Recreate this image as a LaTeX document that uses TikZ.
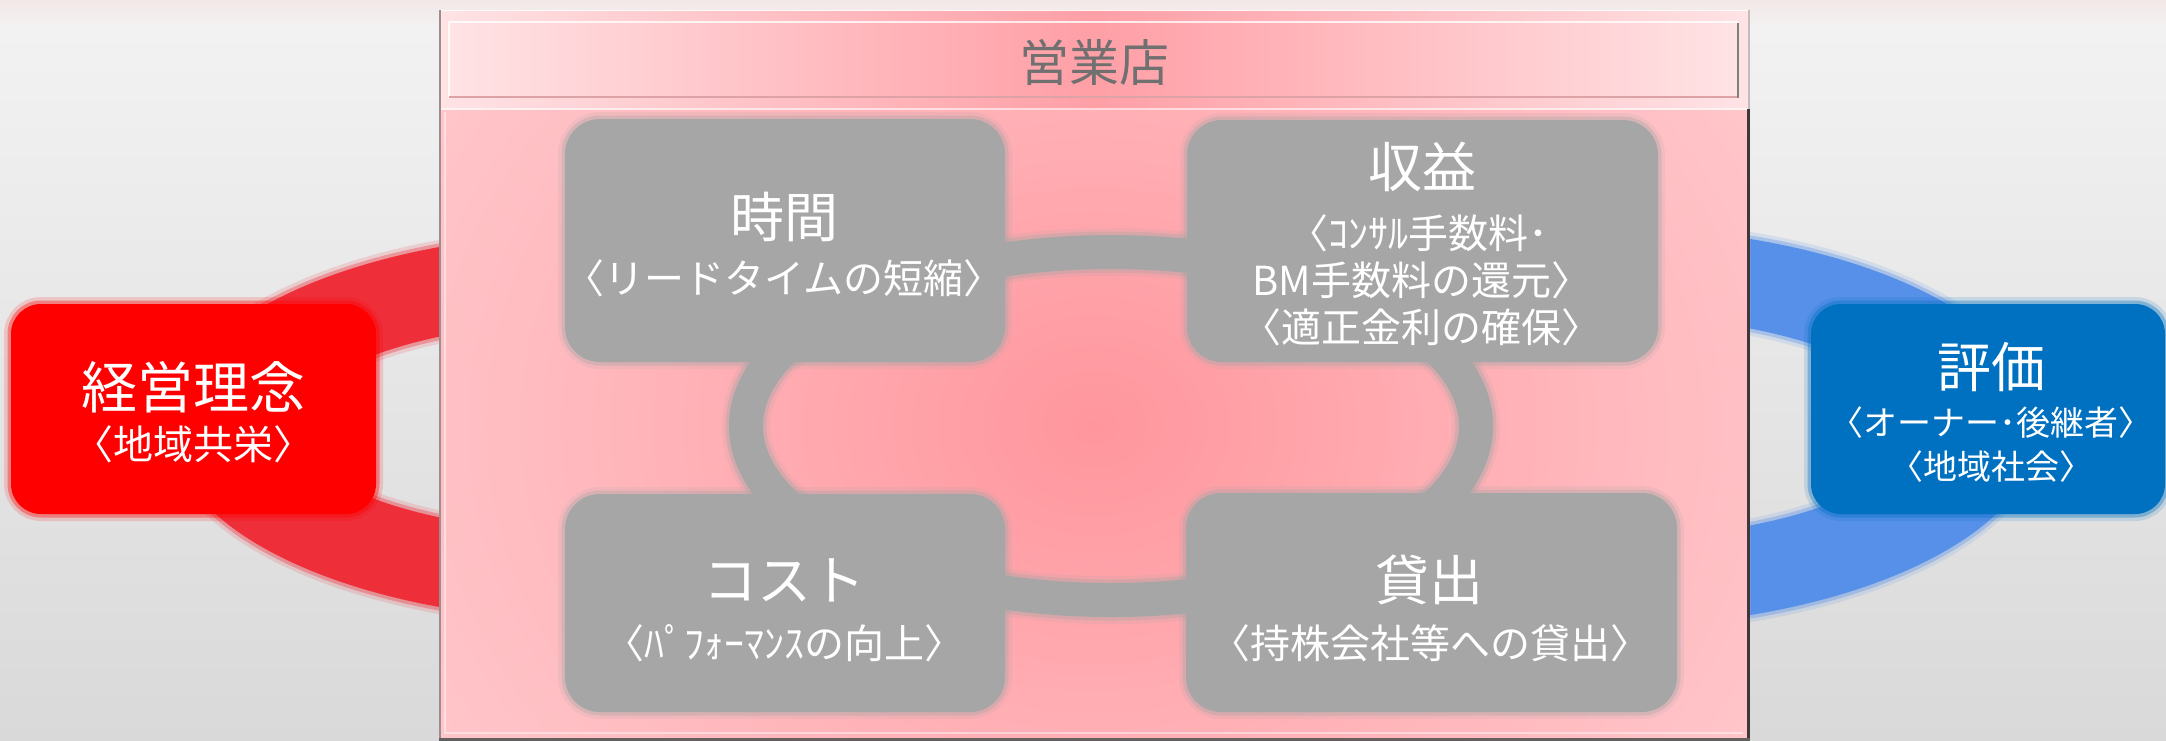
\documentclass[tikz,border=0pt]{standalone}
\usepackage{fontspec}
\setmainfont{Noto Sans CJK JP}
\usetikzlibrary{calc}
\definecolor{bgtop}{HTML}{F3F3F3}
\definecolor{bgbot}{HTML}{D9D9D9}
\definecolor{bgpink}{HTML}{F3E8E8}
\definecolor{pkedge}{HTML}{FFE3E5}
\definecolor{pkmid}{HTML}{FFB9BE}
\definecolor{pkcore}{HTML}{FF969D}
\definecolor{pkhdr}{HTML}{FF9FA6}
\definecolor{boxgray}{HTML}{A6A6A6}
\definecolor{ringred}{HTML}{EE2F3A}
\definecolor{ringblue}{HTML}{5690E8}
\definecolor{rbox}{HTML}{FF0000}
\definecolor{bbox}{HTML}{0070C0}
\definecolor{hdrtext}{HTML}{707070}
\definecolor{framedark}{HTML}{3E3838}
\definecolor{framegray}{HTML}{9C8E8E}
\definecolor{hdrshadow}{HTML}{DDA2A6}
\pgfdeclareradialshading{panelrad}{\pgfpointorigin}{color(0bp)=(pkcore); color(20bp)=(pkmid); color(50bp)=(pkedge); color(72bp)=(pkedge)}
\tikzset{
  soft/.style={preaction={draw=#1, line width=14pt, opacity=0.15},
               preaction={draw=#1, line width=7pt, opacity=0.35}},
  gbox/.style={fill=boxgray, rounded corners=35pt, inner sep=0pt, soft=boxgray},
  redbox/.style={fill=rbox, rounded corners=30pt, inner sep=0pt, soft=rbox},
  bluebox/.style={fill=bbox, rounded corners=30pt, inner sep=0pt, soft=bbox},
  ttl/.style={text=white, inner sep=0pt, font=\fontsize{54}{60}\selectfont},
  bigttl/.style={text=white, inner sep=0pt, font=\fontsize{56}{62}\selectfont},
  sub/.style={text=white, inner sep=0pt, font=\fontsize{40}{46}\selectfont},
  lsub/.style={text=white, inner sep=0pt, font=\fontsize{40}{46}\selectfont},
  rsub/.style={text=white, inner sep=0pt, font=\fontsize{34}{40}\selectfont},
  hdr/.style={text=hdrtext, inner sep=0pt, font=\fontsize{50}{56}\selectfont},
}
\begin{document}
\begin{tikzpicture}[x=1pt, y=-1pt]
\useasboundingbox (0,0) rectangle (2166,740);
% background
\shade[top color=bgtop, bottom color=bgbot] (0,0) rectangle (2166,740);
\shade[top color=bgpink, bottom color=bgtop] (0,0) rectangle (2166,30);
% red ring (left)
\coordinate (redc) at (600,427);
\foreach \w/\o in {14/0.15, 7/0.35}{
  \draw[ringred, line width=\w pt, opacity=\o] (redc) ellipse [x radius=430pt, y radius=194pt];
  \draw[ringred, line width=\w pt, opacity=\o] (redc) ellipse [x radius=307pt, y radius=106pt];
}
\fill[ringred, even odd rule] (redc) ellipse [x radius=430pt, y radius=194pt]
  (redc) ellipse [x radius=307pt, y radius=106pt];
% blue ring (right)
\coordinate (bluec) at (1600,427);
\foreach \w/\o in {14/0.15, 7/0.35}{
  \draw[ringblue, line width=\w pt, opacity=\o] (bluec) ellipse [x radius=440pt, y radius=200pt];
  \draw[ringblue, line width=\w pt, opacity=\o] (bluec) ellipse [x radius=315pt, y radius=112pt];
}
\fill[ringblue, even odd rule] (bluec) ellipse [x radius=440pt, y radius=200pt]
  (bluec) ellipse [x radius=315pt, y radius=112pt];
% central panel body
\begin{scope}
  \clip (439,109) rectangle (1750,740);
  \shade[shading=panelrad] (439,-110) rectangle (1750,960);
\end{scope}
% header section
\shade[left color=pkedge, right color=pkedge, middle color=pkhdr] (439,10) rectangle (1750,109);
\shade[left color=pkedge, right color=pkedge, middle color=pkhdr] (449,22) rectangle (1738,98);
\draw[white, line width=1.5pt, opacity=0.8] (449,98) -- (449,22) -- (1738,22);
\draw[hdrshadow, line width=2pt] (449,97) -- (1738,97);
\draw[gray, line width=2pt] (1738,23) -- (1738,98);
\draw[white, line width=1.5pt, opacity=0.9] (439,10.5) -- (1750,10.5);
\draw[white, line width=2pt, opacity=0.6] (439,109) -- (1750,109);
% frame
\draw[framegray, line width=2.5pt] (440,10) -- (440,740);
\draw[white, line width=2pt, opacity=0.45] (445,112) -- (445,733) -- (1743,733);
\draw[framegray!60, line width=1.5pt] (1749,10) -- (1749,109);
\draw[framedark, line width=3.5pt] (1748.5,109) -- (1748.5,740);
\draw[framedark!80, line width=3pt] (439,739) -- (1750,739);
\node[hdr] (hdrT) at (1094,62) {営業店};
% gray ring
\coordinate (ringc) at (1111,426);
\draw[boxgray, line width=48pt, opacity=0.15] (ringc) ellipse [x radius=365pt, y radius=174pt];
\draw[boxgray, line width=41pt, opacity=0.35] (ringc) ellipse [x radius=365pt, y radius=174pt];
\draw[boxgray, line width=34pt] (ringc) ellipse [x radius=365pt, y radius=174pt];
% gray boxes
\node[gbox, minimum width=440pt, minimum height=243pt] (jikan) at (785,240.5) {};
\node[gbox, minimum width=471pt, minimum height=242pt] (shueki) at (1422.5,241) {};
\node[gbox, minimum width=440pt, minimum height=218pt] (cost) at (785,603) {};
\node[gbox, minimum width=491pt, minimum height=219pt] (kashi) at (1431.5,602.5) {};
% side boxes
\node[redbox, minimum width=365pt, minimum height=210pt] (rinen) at (193.5,409) {};
\node[bluebox, minimum width=354pt, minimum height=210pt] (hyoka) at (1988,409) {};
% texts
\node[ttl] (jikanT) at (784,217) {時間};
\node[sub] (jikanS) at (784,278) {〈リードタイムの短縮〉};
\node[ttl] (shuekiT) at (1422,167) {収益};
\node[sub] (shuekiS1) at (1418,233) {〈ｺﾝｻﾙ手数料･};
\node[sub] (shuekiS2) at (1422,280) {BM手数料の還元〉};
\node[sub] (shuekiS3) at (1421,327) {〈適正金利の確保〉};
\node[ttl] (costT) at (784,580) {コスト};
\node[sub] (costS) at (784,643) {〈ﾊﾟﾌｫｰﾏﾝｽの向上〉};
\node[ttl] (kashiT) at (1429,580) {貸出};
\node[sub] (kashiS) at (1430,643) {〈持株会社等への貸出〉};
\node[bigttl] (rinenT) at (193,387) {経営理念};
\node[lsub] (rinenS) at (193,444) {〈地域共栄〉};
\node[ttl] (hyokaT) at (1991,367) {評価};
\node[rsub] (hyokaS1) at (1991,423) {〈オーナー･後継者〉};
\node[rsub] (hyokaS2) at (1991,467) {〈地域社会〉};
\end{tikzpicture}
\end{document}
